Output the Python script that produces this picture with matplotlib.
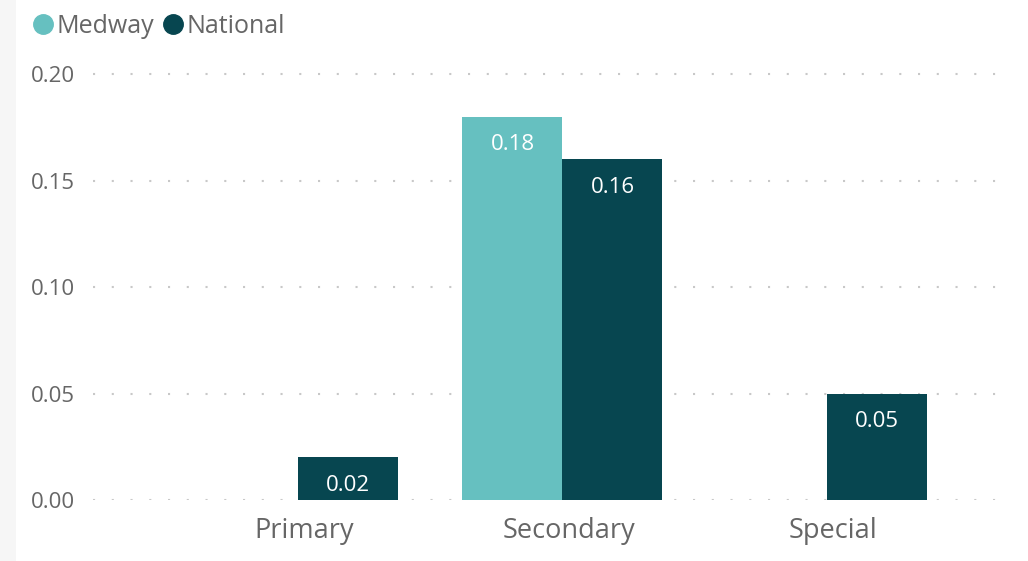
import numpy as np
import matplotlib.pyplot as plt
from matplotlib.lines import Line2D
from matplotlib.patches import Rectangle

categories = ['Primary', 'Secondary', 'Special']
medway = [np.nan, 0.18, np.nan]
national = [0.02, 0.16, 0.05]
y_ticks = [0.00, 0.05, 0.10, 0.15, 0.20]

C_MEDWAY = '#66c0c0'
C_NATIONAL = '#074650'
C_TEXT = '#666666'
FONT = ['Open Sans', 'DejaVu Sans']

plt.rcParams['font.family'] = FONT

fig = plt.figure(figsize=(10.28, 5.61), dpi=100)
fig.patches.append(Rectangle((0, 0), 16 / 1028, 1, transform=fig.transFigure, fc='#f6f6f6', ec='none', zorder=0))
ax = fig.add_axes([93 / 1028, 61 / 561, (1010 - 93) / 1028, (491 - 61) / 561])

x = np.arange(len(categories))
w = 100 / 264.5
bars_m = ax.bar(x - w / 2, medway, w, color=C_MEDWAY, zorder=3)
bars_n = ax.bar(x + w / 2, national, w, color=C_NATIONAL, zorder=3)

for bars, vals in ((bars_m, medway), (bars_n, national)):
    for b, v in zip(bars, vals):
        if np.isnan(v):
            continue
        ax.annotate(f'{v:.2f}', xy=(b.get_x() + b.get_width() / 2, v), xytext=(0, -20),
                    textcoords='offset points', ha='center', va='center', color='white',
                    fontsize=16, zorder=4)

ax.set_xlim(-0.775, 2.692)
ax.set_ylim(0, 0.2019)
ax.set_yticks(y_ticks)
ax.set_yticklabels([f'{t:.2f}' for t in y_ticks])
# category labels sit a few pixels right of the bar group centre
ax.set_xticks(x + 0.023)
ax.set_xticklabels(categories, fontsize=19.5)
ax.tick_params(axis='y', length=0, labelsize=16, labelcolor=C_TEXT, pad=13)
ax.tick_params(axis='x', length=0, labelcolor=C_TEXT, pad=12)
for s in ax.spines.values():
    s.set_visible(False)
ax.yaxis.grid(True, color='#c8c8c8', linestyle=(0, (1, 8)), linewidth=1.5, zorder=0)
ax.set_axisbelow(True)

handles = [Line2D([], [], marker='o', ls='none', color=c, markersize=14) for c in (C_MEDWAY, C_NATIONAL)]
fig.legend(handles, ['Medway', 'National'], loc='upper left', bbox_to_anchor=(14 / 1028, 1.0),
           ncol=2, frameon=False, fontsize=18, handletextpad=-0.05, columnspacing=0.15,
           labelcolor=C_TEXT, handlelength=1.2, borderpad=0.05)

fig.savefig('out.png', dpi=100)
